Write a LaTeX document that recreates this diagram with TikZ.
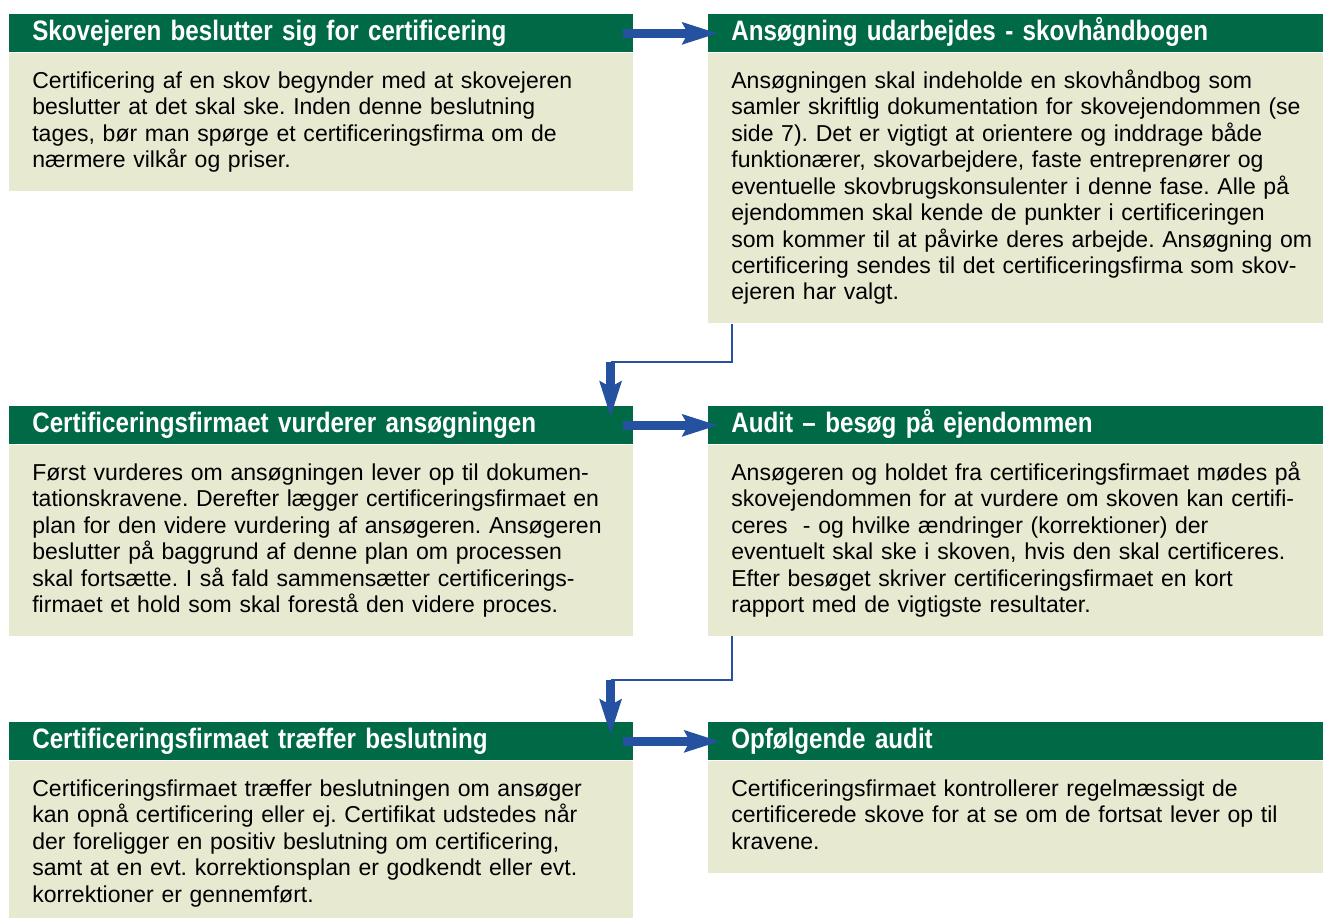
\documentclass[tikz,border=0pt]{standalone}
\usepackage{fontspec}
\setmainfont{Liberation Sans}
\newfontfamily\headfont[FakeStretch=0.86]{Liberation Sans}
\usetikzlibrary{arrows.meta}
\frenchspacing

\definecolor{skovgreen}{RGB}{0,106,70}
\definecolor{skovbeige}{RGB}{232,233,209}
\definecolor{pilblue}{RGB}{36,82,160}

\tikzset{
  hoved/.style={anchor=north west, fill=skovgreen, text=white, inner sep=0pt,
    text width=#1, minimum height=0.76cm, text height=11.5pt, text depth=3pt,
    font=\headfont\bfseries\fontsize{16}{18}\selectfont,
    execute at begin node={\leftskip=0.46cm}},
  krop/.style={anchor=north west, fill=skovbeige, inner sep=0pt, text width=#1,
    font=\fontsize{13.1}{15.08}\selectfont,
    execute at begin node={\leftskip=0.46cm\rule{0pt}{0.7cm}},
    execute at end node={\rule[-0.47cm]{0pt}{0pt}}},
  pil/.style={line width=0.17cm, pilblue, -{Stealth[length=0.7cm, width=0.42cm, inset=0.1cm]}},
  tynd/.style={line width=0.04cm, pilblue}
}

\begin{document}
\begin{tikzpicture}[x=0.02cm, y=-0.02cm]
  \useasboundingbox (0,0) rectangle (1323,918);

  % venstre kolonne
  \node[hoved=12.48cm] (h1) at (9,14) {Skovejeren beslutter sig for certificering};
  \node[krop=12.48cm] (b1) at (h1.south west) {Certificering af en skov begynder med at skovejeren\\
    beslutter at det skal ske. Inden denne beslutning\\
    tages, bør man spørge et certificeringsfirma om de\\
    nærmere vilkår og priser.};

  \node[hoved=12.48cm] (h3) at (9,406) {Certificeringsfirmaet vurderer ansøgningen};
  \node[krop=12.48cm] (b3) at (h3.south west) {Først vurderes om ansøgningen lever op til dokumen-\\
    tationskravene. Derefter lægger certificeringsfirmaet en\\
    plan for den videre vurdering af ansøgeren. Ansøgeren\\
    beslutter på baggrund af denne plan om processen\\
    skal fortsætte. I så fald sammensætter certificerings-\\
    firmaet et hold som skal forestå den videre proces.};

  \node[hoved=12.48cm] (h5) at (9,722) {Certificeringsfirmaet træffer beslutning};
  \node[krop=12.48cm] (b5) at (h5.south west) {Certificeringsfirmaet træffer beslutningen om ansøger\\
    kan opnå certificering eller ej. Certifikat udstedes når\\
    der foreligger en positiv beslutning om certificering,\\
    samt at en evt. korrektionsplan er godkendt eller evt.\\
    korrektioner er gennemført.};

  % højre kolonne
  \node[hoved=12.6cm] (h2) at (708,14) {Ansøgning udarbejdes - skovhåndbogen};
  \node[krop=12.6cm] (b2) at (h2.south west) {Ansøgningen skal indeholde en skovhåndbog som\\
    samler skriftlig dokumentation for skovejendommen (se\\
    side 7). Det er vigtigt at orientere og inddrage både\\
    funktionærer, skovarbejdere, faste entreprenører og\\
    eventuelle skovbrugskonsulenter i denne fase. Alle på\\
    ejendommen skal kende de punkter i certificeringen\\
    som kommer til at påvirke deres arbejde. Ansøgning om\\
    certificering sendes til det certificeringsfirma som skov-\\
    ejeren har valgt.};

  \node[hoved=12.6cm] (h4) at (708,406) {Audit – besøg på ejendommen};
  \node[krop=12.6cm] (b4) at (h4.south west) {Ansøgeren og holdet fra certificeringsfirmaet mødes på\\
    skovejendommen for at vurdere om skoven kan certifi-\\
    ceres\ \ - og hvilke ændringer (korrektioner) der\\
    eventuelt skal ske i skoven, hvis den skal certificeres.\\
    Efter besøget skriver certificeringsfirmaet en kort\\
    rapport med de vigtigste resultater.};

  \node[hoved=12.6cm] (h6) at (708,722) {Opfølgende audit};
  \node[krop=12.6cm] (b6) at (h6.south west) {Certificeringsfirmaet kontrollerer regelmæssigt de\\
    certificerede skove for at se om de fortsat lever op til\\
    kravene.};

  % pile
  \draw[pil] ([xshift=-0.22cm]h1.east) -- ([xshift=0.2cm]h2.west);
  \draw[pil] ([xshift=-0.22cm]h3.east) -- ([xshift=0.2cm]h4.west);
  \draw[pil] ([xshift=-0.22cm]h5.east) -- ([xshift=0.24cm]h6.west);

  \coordinate (t1) at ([xshift=-0.46cm]h3.north east);
  \draw[tynd] ([xshift=0.48cm]b2.south west) |- ([yshift=0.88cm]t1) coordinate (k1);
  \draw[pil] (k1) -- ([yshift=-0.22cm]t1);

  \coordinate (t2) at ([xshift=-0.46cm]h5.north east);
  \draw[tynd] ([xshift=0.48cm]b4.south west) |- ([yshift=0.84cm]t2) coordinate (k2);
  \draw[pil] (k2) -- ([yshift=-0.26cm]t2);
\end{tikzpicture}
\end{document}
